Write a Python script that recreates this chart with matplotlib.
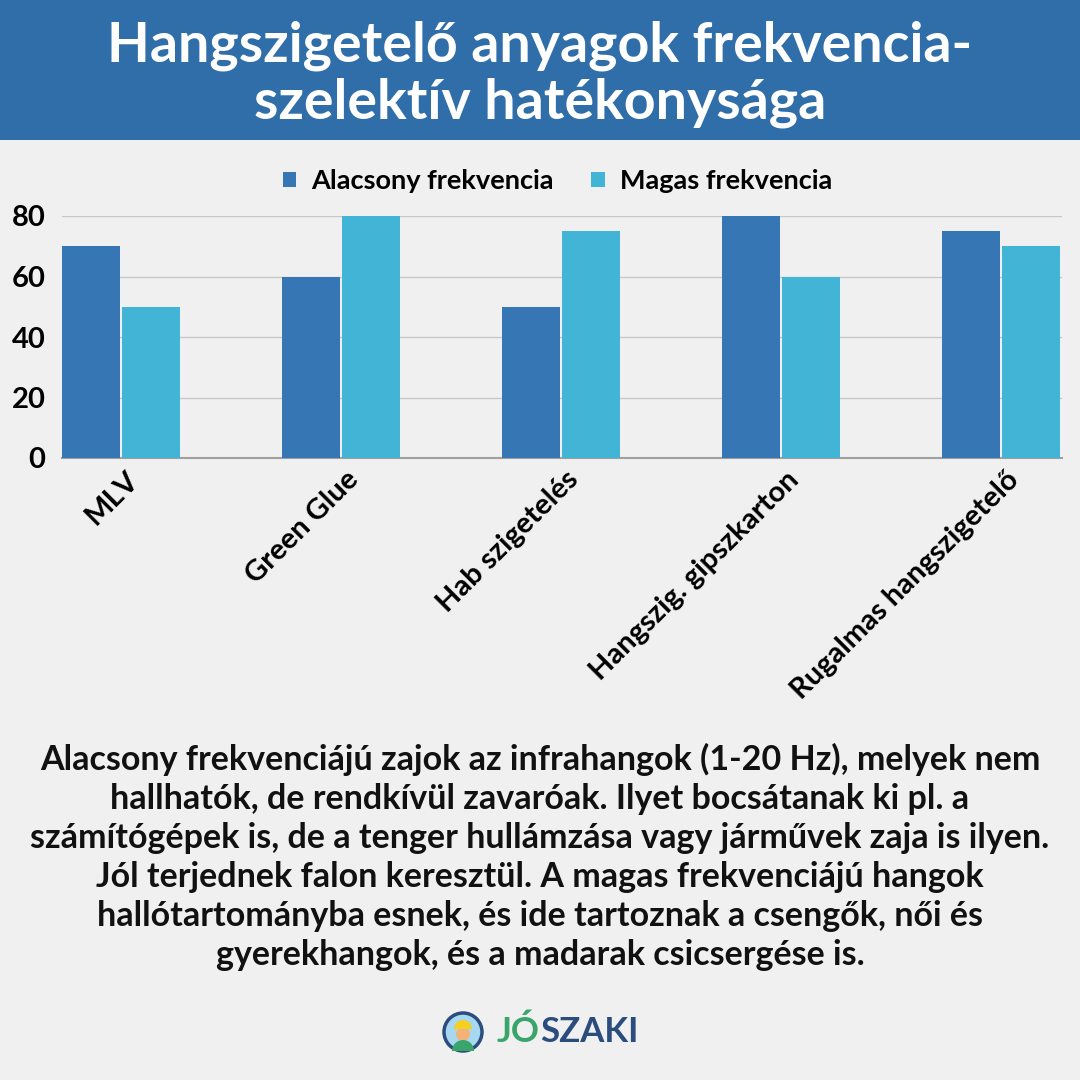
import matplotlib
matplotlib.use("Agg")
import matplotlib.pyplot as plt
import numpy as np
from matplotlib.patches import Circle, Rectangle, Wedge

plt.rcParams['font.family'] = ['Lato', 'DejaVu Sans']

categories = ["MLV", "Green Glue", "Hab szigetelés", "Hangszig. gipszkarton", "Rugalmas hangszigetelő"]
low_freq = [70, 60, 50, 80, 75]
high_freq = [50, 80, 75, 60, 70]
series_names = ["Alacsony frekvencia", "Magas frekvencia"]
yticks = [0, 20, 40, 60, 80]

title = "Hangszigetelő anyagok frekvencia-\nszelektív hatékonysága"
note = ("Alacsony frekvenciájú zajok az infrahangok (1-20 Hz), melyek nem\n"
        "hallhatók, de rendkívül zavaróak. Ilyet bocsátanak ki pl. a\n"
        "számítógépek is, de a tenger hullámzása vagy járművek zaja is ilyen.\n"
        "Jól terjednek falon keresztül. A magas frekvenciájú hangok\n"
        "hallótartományba esnek, és ide tartoznak a csengők, női és\n"
        "gyerekhangok, és a madarak csicsergése is.")

bg = "#f0f0f0"
dark = "#3676b4"
light = "#42b5d6"

fig = plt.figure(figsize=(10.8, 10.8), dpi=100, facecolor=bg)

# title band
fig.patches.append(Rectangle((0, 1 - 140 / 1080), 1, 140 / 1080, transform=fig.transFigure,
                             facecolor="#2f6ea8", edgecolor="none", zorder=0))
fig.text(0.5, 1 - 74 / 1080, title, ha="center", va="center", color="white",
         fontsize=40, fontweight="bold", linespacing=1.17)

ax = fig.add_axes([62 / 1080, 1 - 458 / 1080, 1000 / 1080, 242 / 1080])
ax.set_facecolor(bg)
x = np.arange(len(categories))
w = 0.264
ax.bar(x - w / 2 - 0.005, low_freq, width=w, color=dark, zorder=3, label=series_names[0])
ax.bar(x + w / 2 + 0.005, high_freq, width=w, color=light, zorder=3, label=series_names[1])
ax.set_xlim(-0.268, 4.277)
ax.set_ylim(0, 80)
ax.set_yticks(yticks)
ax.set_yticklabels([str(v) for v in yticks], fontsize=21, fontweight="bold")
ax.yaxis.grid(True, color="#c8c8c8", linewidth=1, zorder=0)
ax.tick_params(axis="y", length=0, pad=12)
ax.tick_params(axis="x", length=0, pad=6)
for s in ["top", "right", "left"]:
    ax.spines[s].set_visible(False)
ax.spines["bottom"].set_color("#a0a0a0")
ax.spines["bottom"].set_linewidth(1.5)
ax.set_xticks(x + 0.02)
ax.set_xticklabels(categories, rotation=45, ha="right", rotation_mode="anchor",
                   fontsize=21, fontweight="bold")

leg = fig.legend(loc="center", bbox_to_anchor=(0.516, 1 - 181 / 1080), ncol=2,
                 frameon=False, fontsize=19.5, handlelength=0.5, handleheight=0.5,
                 columnspacing=1.4, handletextpad=0.55)
for t in leg.get_texts():
    t.set_fontweight("bold")

fig.text(0.5, 1 - 857 / 1080, note, ha="center", va="center", fontsize=24.5,
         fontweight="bold", color="#111111", linespacing=1.27)

# logo
cx, cy, r = 463 / 1080, 1 - 1032 / 1080, 19 / 1080
fig.patches.append(Circle((cx, cy), r, transform=fig.transFigure,
                          facecolor="#a8d8f0", edgecolor="#2b4d7e", linewidth=2.5, zorder=2))
fig.patches.append(Circle((cx, cy - 2 / 1080), 7 / 1080, transform=fig.transFigure,
                          facecolor="#f2b27a", edgecolor="none", zorder=3))
fig.patches.append(Wedge((cx, cy + 3 / 1080), 9 / 1080, 0, 180, transform=fig.transFigure,
                         facecolor="#f5d020", edgecolor="none", zorder=4))
fig.patches.append(Wedge((cx, cy - 19 / 1080), 11 / 1080, 0, 180, transform=fig.transFigure,
                         facecolor="#3aa56b", edgecolor="none", zorder=3))
t1 = fig.text(497 / 1080, cy, "JÓ", ha="left", va="center", fontsize=25,
              fontweight="bold", color="#3aa56b")
fig.canvas.draw()
bb = t1.get_window_extent(renderer=fig.canvas.get_renderer())
fig.text(bb.x1 / 1080 + 0.5 / 1080, cy, "SZAKI", ha="left", va="center", fontsize=25,
         fontweight="bold", color="#2b4d7e")

fig.savefig("out.png", dpi=100, facecolor=bg)
